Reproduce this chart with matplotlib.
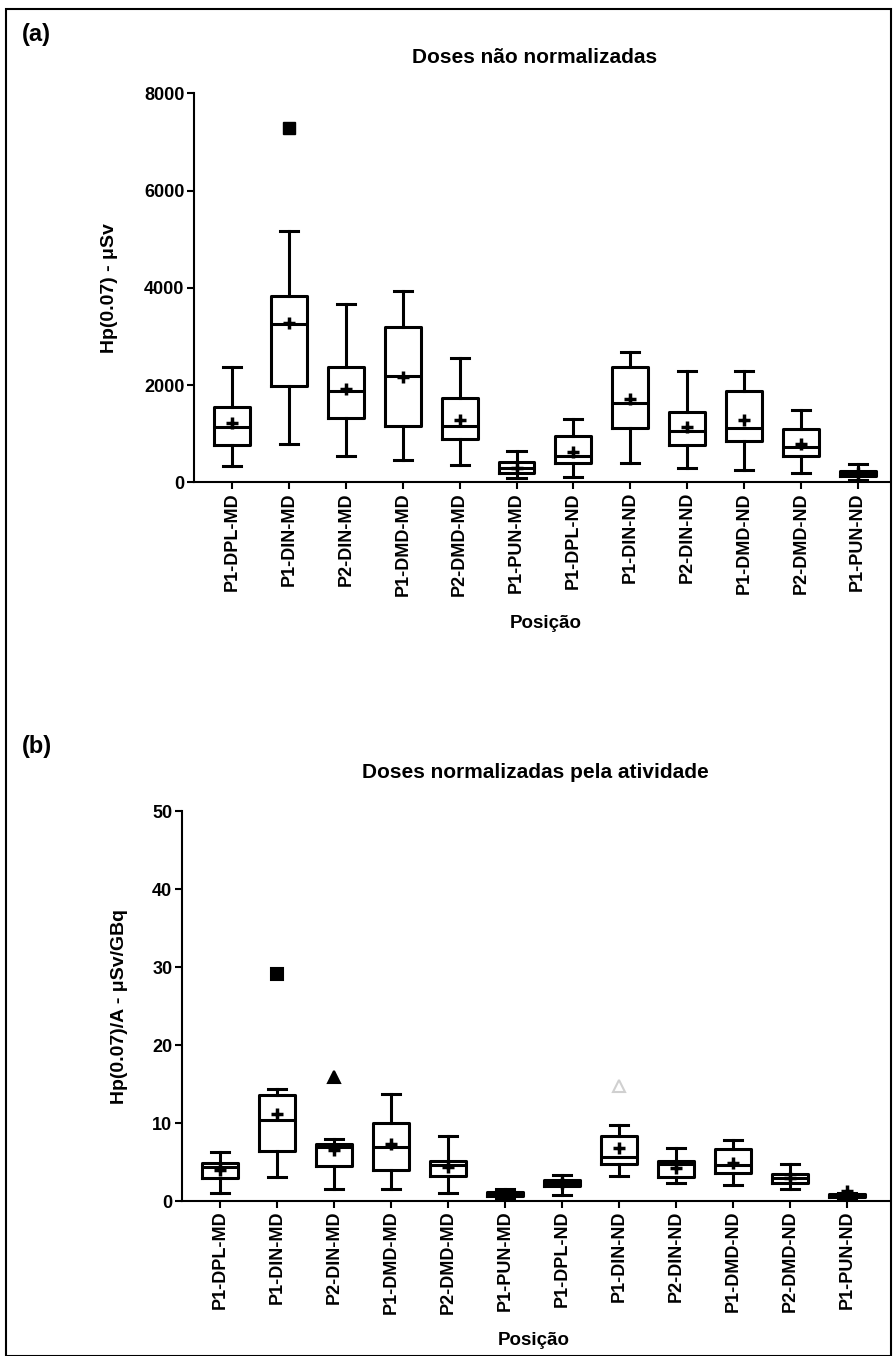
import matplotlib
matplotlib.use("Agg")
import matplotlib.pyplot as plt
from matplotlib.patches import Rectangle

plt.rcParams['font.family'] = ['Liberation Sans', 'DejaVu Sans']
plt.rcParams['font.weight'] = 'bold'

# =============================================================================
# Data
# =============================================================================
labels = ['P1-DPL-MD', 'P1-DIN-MD', 'P2-DIN-MD', 'P1-DMD-MD', 'P2-DMD-MD', 'P1-PUN-MD',
          'P1-DPL-ND', 'P1-DIN-ND', 'P2-DIN-ND', 'P1-DMD-ND', 'P2-DMD-ND', 'P1-PUN-ND']

# (a) doses nao normalizadas - uSv
whislo_a = [335, 788, 541, 459, 356, 82, 115, 391, 288, 253, 198, 47]
q1_a = [761, 1982, 1317, 1159, 885, 185, 391, 1124, 767, 850, 548, 136]
med_a = [1132, 3251, 1885, 2188, 1159, 300, 548, 1638, 1062, 1124, 733, 185]
q3_a = [1556, 3834, 2366, 3190, 1728, 411, 953, 2379, 1440, 1885, 1097, 239]
whishi_a = [2380, 5178, 3670, 3944, 2565, 644, 1296, 2688, 2290, 2290, 1488, 370]
mean_a = [1214, 3285, 1913, 2174, 1282, 300, 630, 1708, 1132, 1282, 788, 185]
out_a_pos = [2]
out_a_val = [7285]

# (b) doses normalizadas pela atividade - uSv/GBq
whislo_b = [0.98, 3.1, 1.5, 1.5, 1.07, 0.2, 0.77, 3.2, 2.27, 2.05, 1.5, 0.3]
q1_b = [2.9, 6.37, 4.49, 3.97, 3.2, 0.64, 1.9, 4.74, 3.04, 3.55, 2.35, 0.47]
med_b = [4.3, 10.34, 6.88, 6.88, 4.6, 0.9, 2.3, 5.6, 4.74, 4.6, 2.9, 0.7]
q3_b = [4.85, 13.55, 7.26, 9.96, 5.13, 1.2, 2.7, 8.38, 5.13, 6.67, 3.46, 0.9]
whishi_b = [6.28, 14.36, 7.9, 13.67, 8.38, 1.5, 3.33, 9.74, 6.75, 7.82, 4.74, 1.05]
mean_b = [4.0, 11.2, 6.5, 7.3, 4.3, 0.95, 2.3, 6.84, 4.2, 4.91, 2.9, 1.3]
out_b_pos = [2, 3, 8]
out_b_val = [29.1, 15.85, 14.74]
out_b_marker = ['s', '^', '^']
out_b_face = ['black', 'black', 'white']
out_b_edge = ['black', 'black', '#d0d0d0']


def make_stats(lo, q1, med, q3, hi, mean):
    return [dict(whislo=lo[i], q1=q1[i], med=med[i], q3=q3[i], whishi=hi[i],
                 mean=mean[i], fliers=[]) for i in range(len(lo))]


def draw_panel(ax, stats):
    lw = 2.2
    ax.bxp(stats, positions=range(1, 13), widths=0.63, capwidths=0.32,
           showmeans=True, showfliers=False,
           boxprops=dict(color='black', linewidth=lw),
           whiskerprops=dict(color='black', linewidth=lw),
           capprops=dict(color='black', linewidth=lw),
           medianprops=dict(color='black', linewidth=lw),
           meanprops=dict(marker='+', markeredgecolor='black', markersize=8,
                          markeredgewidth=2.5))
    for s in ['top', 'right']:
        ax.spines[s].set_visible(False)
    for s in ['left', 'bottom']:
        ax.spines[s].set_linewidth(1.5)
    ax.set_xticks(range(1, 13))
    ax.set_xticklabels(labels, rotation=90, fontsize=13, fontweight='bold')
    ax.tick_params(axis='both', width=1.5, length=5, pad=2)
    ax.tick_params(axis='y', labelsize=13)


fig = plt.figure(figsize=(8.96, 13.56), dpi=100)
W, H = 896.0, 1356.0

# ---------------- panel (a)
ax1 = fig.add_axes([194 / W, 1 - 482.3 / H, 696 / W, 389 / H])
draw_panel(ax1, make_stats(whislo_a, q1_a, med_a, q3_a, whishi_a, mean_a))
ax1.plot(out_a_pos, out_a_val, 's', color='black', markersize=8, clip_on=False)
ax1.set_ylim(0, 8000)
ax1.set_yticks([0, 2000, 4000, 6000, 8000])
ax1.set_xlim(0.326, 12.57)
ax1.set_ylabel('Hp(0.07) - μSv', fontsize=14, fontweight='bold')
ax1.yaxis.set_label_coords(-0.109, 0.5)
ax1.set_xlabel('Posição', fontsize=13.5, fontweight='bold')
ax1.xaxis.set_label_coords(0.506, -0.341)
ax1.text(0.49, 1.093, 'Doses não normalizadas', transform=ax1.transAxes,
         ha='center', va='center', fontsize=15, fontweight='bold')

# ---------------- panel (b)
ax2 = fig.add_axes([182 / W, 1 - 1201 / H, 708 / W, 390 / H])
draw_panel(ax2, make_stats(whislo_b, q1_b, med_b, q3_b, whishi_b, mean_b))
for p, v, m, fc, ec in zip(out_b_pos, out_b_val, out_b_marker, out_b_face, out_b_edge):
    ax2.plot([p], [v], m, markerfacecolor=fc, markeredgecolor=ec, markersize=8,
             markeredgewidth=1.5)
ax2.set_ylim(0, 50)
ax2.set_yticks([0, 10, 20, 30, 40, 50])
ax2.set_xlim(0.333, 12.75)
ax2.set_ylabel('Hp(0.07)/A - μSv/GBq', fontsize=14, fontweight='bold')
ax2.yaxis.set_label_coords(-0.076, 0.5)
ax2.set_xlabel('Posição', fontsize=13.5, fontweight='bold')
ax2.xaxis.set_label_coords(0.497, -0.336)
ax2.text(0.4986, 1.1, 'Doses normalizadas pela atividade', transform=ax2.transAxes,
         ha='center', va='center', fontsize=15, fontweight='bold')

# panel letters
fig.text(22 / W, 1 - 35 / H, '(a)', fontsize=17, fontweight='bold', va='center')
fig.text(22 / W, 1 - 747 / H, '(b)', fontsize=17, fontweight='bold', va='center')

# outer frame
fig.add_artist(Rectangle((6 / W, 0), 885 / W, 1 - 9 / H, transform=fig.transFigure,
                         fill=False, edgecolor='black', linewidth=1.5))

fig.savefig('out.png', dpi=100)
